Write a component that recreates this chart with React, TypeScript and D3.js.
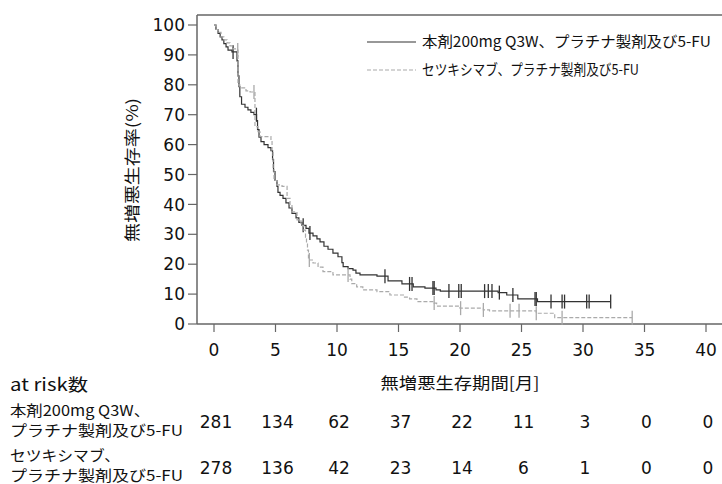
import React from "react";
import * as d3 from "d3";

const timeTicks = [0, 5, 10, 15, 20, 25, 30, 35, 40];
const survTicks = [0, 10, 20, 30, 40, 50, 60, 70, 80, 90, 100];

const seriesNames = ["本剤200mg Q3W、プラチナ製剤及び5-FU", "セツキシマブ、プラチナ製剤及び5-FU"];

// 本剤 arm (solid)
const pembroTimes = [0, 0.16, 0.33, 0.5, 0.65, 0.8, 0.98, 1.14, 1.46, 1.87, 1.95, 2.03, 2.1, 2.24, 2.52, 2.76, 3.0, 3.25, 3.46, 3.54, 3.66, 3.82, 4.07, 4.39, 4.63, 4.76, 4.84, 4.96, 5.12, 5.2, 5.37, 5.61, 5.85, 6.1, 6.34, 6.67, 6.9, 7.15, 7.48, 7.72, 8.05, 8.37, 8.62, 8.94, 9.27, 9.67, 10.08, 10.4, 10.5, 10.9, 11.3, 11.54, 11.87, 13.25, 14.15, 15.28, 16.2, 17.15, 18.05, 18.4, 23.1, 23.8, 24.7, 26.3];
const pembroSurv = [100, 98.5, 97.2, 96, 95, 93.8, 92.7, 91.6, 91, 88, 83, 79.4, 76, 73.5, 72.5, 71.6, 70.8, 70, 68, 65, 62.5, 61, 60, 59, 58, 55, 51, 48, 46, 44, 43, 42, 40.5, 38.8, 37, 35.5, 34, 33, 32, 30.4, 29.5, 28.5, 27.5, 26, 25, 23.7, 22.5, 20.5, 19.2, 18.5, 18, 17, 16.4, 16, 14.4, 13.4, 12.4, 12, 11.4, 11, 10.5, 9.7, 8.4, 7.5];
const pembroCensor = [1.55, 3.45, 7.25, 7.8, 13.9, 15.9, 16.1, 17.8, 17.9, 19.1, 19.9, 20.1, 22.0, 22.3, 22.6, 23.2, 24.3, 26.1, 26.2, 27.4, 28.3, 28.5, 30.3, 30.5, 32.25];
const pembroEnd = 32.25;

// セツキシマブ arm (dashed)
const cetuxTimes = [0, 0.16, 0.33, 0.57, 0.8, 1.06, 1.3, 1.55, 1.8, 1.95, 2.1, 2.6, 2.93, 3.33, 3.58, 3.74, 4.63, 4.72, 4.8, 4.88, 5.12, 5.53, 5.94, 6.18, 6.34, 6.75, 7.07, 7.3, 7.44, 7.52, 7.6, 7.68, 8.05, 8.46, 8.86, 9.67, 11.06, 11.2, 11.6, 12.1, 13.25, 14.3, 15.4, 15.9, 16.5, 17.9, 18.1, 20.0, 21.9, 22.4, 26.2, 27.7];
const cetuxSurv = [100, 98.5, 97.5, 96, 95, 94, 93, 92, 91.6, 80, 79, 78, 77.6, 66, 64.3, 62.7, 61.5, 58, 52, 48, 46.5, 46, 42, 39.8, 37.5, 34.8, 33, 31.4, 29, 27, 24.7, 21.4, 20.4, 19, 17.5, 16.4, 15, 13.5, 12.4, 11.4, 10.8, 9.7, 9, 8.4, 7.5, 7, 6, 5.3, 4.7, 4.4, 3.6, 2.1];
const cetuxCensor = [1.93, 3.25, 7.75, 10.9, 17.9, 20.05, 21.9, 24.07, 24.8, 26.2, 28.3, 34.0];
const cetuxEnd = 34.0;

const riskTitle = "at risk数";
const riskLabels = [["本剤200mg Q3W、", "プラチナ製剤及び5-FU"], ["セツキシマブ、", "プラチナ製剤及び5-FU"]];
const atRiskPembro = [281, 134, 62, 37, 22, 11, 3, 0, 0];
const atRiskCetux = [278, 136, 42, 23, 14, 6, 1, 0, 0];

const yTitle = "無増悪生存率(%)";
const xTitle = "無増悪生存期間[月]";

const JP = "'Noto Sans CJK JP', sans-serif";
const NUM = "'DejaVu Sans', sans-serif";

function stepAt(times: number[], surv: number[], t: number) {
  let v = surv[0];
  for (let i = 0; i < times.length; i++) if (times[i] <= t) v = surv[i];
  return v;
}

export default function App() {
  const x = d3.scaleLinear().domain([0, 40]).range([214, 706]);
  const y = d3.scaleLinear().domain([0, 100]).range([324, 25]);
  const line = d3
    .line<[number, number]>()
    .x((d) => x(d[0]))
    .y((d) => y(d[1]))
    .curve(d3.curveStepAfter);

  const mk = (times: number[], surv: number[], end: number) => {
    const pts: [number, number][] = times.map((t, i) => [t, surv[i]]);
    pts.push([end, surv[surv.length - 1]]);
    return line(pts) || "";
  };

  const series = [
    { times: pembroTimes, surv: pembroSurv, censor: pembroCensor, end: pembroEnd, color: "#333", censorColor: "#333", dash: undefined as string | undefined, risk: atRiskPembro },
    { times: cetuxTimes, surv: cetuxSurv, censor: cetuxCensor, end: cetuxEnd, color: "#aaa", censorColor: "#aaa", dash: "4,2", risk: atRiskCetux },
  ];

  const axisColor = "#666";
  const left = 197;
  const top = 15;
  const bottom = 324;

  return (
    <svg width={722} height={484} style={{ position: "absolute", left: 0, top: 0, background: "#fff" }}>
      {/* frame */}
      <line x1={left} x2={722} y1={top} y2={top} stroke={axisColor} strokeWidth={1.5} />
      <line x1={left} x2={left} y1={top} y2={bottom} stroke={axisColor} strokeWidth={1.5} />
      <line x1={left} x2={722} y1={bottom} y2={bottom} stroke={axisColor} strokeWidth={1.5} />
      {/* y ticks */}
      {survTicks.map((v) => (
        <g key={"y" + v}>
          <line x1={188} x2={left} y1={y(v)} y2={y(v)} stroke={axisColor} strokeWidth={1.2} />
          <text x={185} y={y(v)} dy="0.36em" textAnchor="end" fontFamily={NUM} fontSize={17} fill="#111">{v}</text>
        </g>
      ))}
      {/* x ticks */}
      {timeTicks.map((t) => (
        <g key={"x" + t}>
          <line x1={x(t)} x2={x(t)} y1={bottom} y2={bottom + 8} stroke={axisColor} strokeWidth={1.2} />
          <text x={x(t)} y={356} textAnchor="middle" fontFamily={NUM} fontSize={17} fill="#111">{t}</text>
        </g>
      ))}
      <text transform={`translate(138,170) rotate(-90)`} textAnchor="middle" fontFamily={JP} fontSize={16} fill="#111" textLength={144} lengthAdjust="spacingAndGlyphs">{yTitle}</text>
      <text x={460} y={389} textAnchor="middle" fontFamily={JP} fontSize={16} fill="#111" textLength={159} lengthAdjust="spacingAndGlyphs">{xTitle}</text>

      {/* curves */}
      {series.map((s, i) => (
        <g key={"s" + i}>
          <path d={mk(s.times, s.surv, s.end)} fill="none" stroke={s.color} strokeWidth={1.2} strokeDasharray={s.dash} />
          {s.censor.map((t, j) => {
            const v = stepAt(s.times, s.surv, t);
            return <line key={j} x1={x(t)} x2={x(t)} y1={y(v) - 7} y2={y(v) + 7} stroke={s.censorColor} strokeWidth={1.3} />;
          })}
        </g>
      ))}

      {/* legend */}
      {series.map((s, i) => (
        <g key={"l" + i}>
          <line x1={367} x2={416} y1={42 + i * 28} y2={42 + i * 28} stroke={s.color} strokeWidth={1.2} strokeDasharray={s.dash} />
          <text x={422} y={42 + i * 28} dy="0.36em" fontFamily={JP} fontSize={15} fill="#111" textLength={i === 0 ? 289 : 217} lengthAdjust="spacingAndGlyphs">{seriesNames[i]}</text>
        </g>
      ))}

      {/* at risk table */}
      <text x={10} y={385} dy="0.36em" fontFamily={JP} fontSize={17} fill="#111" textLength={78} lengthAdjust="spacingAndGlyphs">{riskTitle}</text>
      {series.map((s, i) => (
        <g key={"r" + i}>
          <text x={10} y={411 + i * 45} dy="0.36em" fontFamily={JP} fontSize={15} fill="#111" textLength={i === 0 ? 140 : 110} lengthAdjust="spacingAndGlyphs">{riskLabels[i][0]}</text>
          <text x={10} y={431 + i * 45} dy="0.36em" fontFamily={JP} fontSize={15} fill="#111" textLength={173} lengthAdjust="spacingAndGlyphs">{riskLabels[i][1]}</text>
          {s.risk.map((n, j) => (
            <text key={j} x={x(timeTicks[j]) + 2} y={422 + i * 46} dy="0.36em" textAnchor="middle" fontFamily={NUM} fontSize={17} fill="#111">{n}</text>
          ))}
        </g>
      ))}
    </svg>
  );
}
